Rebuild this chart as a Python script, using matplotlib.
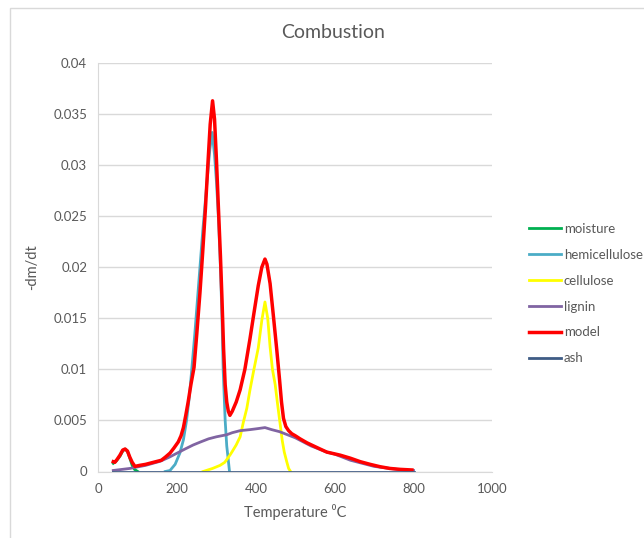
import matplotlib
matplotlib.use("Agg")
import matplotlib.pyplot as plt
from matplotlib.patches import Rectangle

plt.rcParams['font.family'] = ['Lato', 'DejaVu Sans']

# moisture peak
t_moist = [38, 45, 55, 62, 68, 74, 80, 86, 92, 100]
moisture = [0.0008, 0.0010, 0.0015, 0.0020, 0.0022, 0.0020, 0.0013, 0.0006, 0.0002, 0.0]

# hemicellulose
t_hemi = [170, 182, 195, 207, 216, 224, 231, 237, 245, 255, 265, 275, 283, 289,
          295, 300, 305, 310, 314, 317, 322, 326, 330, 333]
hemi = [0.0, 0.0001, 0.0007, 0.0018, 0.0031, 0.0050, 0.0073, 0.0099, 0.0135, 0.0185,
        0.0235, 0.0280, 0.0315, 0.0332,
        0.0310, 0.0283, 0.0248, 0.0200, 0.0150, 0.0099, 0.0050, 0.0025, 0.0011, 0.0]

# cellulose
t_cell = [266, 290, 309, 321, 334, 339, 350, 360, 368, 377, 385, 395, 406, 415, 423,
          430, 436, 442, 449, 455, 461, 467, 472, 478, 483, 488]
cell = [0.0, 0.0003, 0.0006, 0.0009, 0.0016, 0.0019, 0.0026, 0.0034, 0.0048, 0.0062,
        0.0080, 0.0100, 0.0121, 0.0148, 0.0166,
        0.0150, 0.0122, 0.0100, 0.0085, 0.0066, 0.0048, 0.0030, 0.0019, 0.0010, 0.0003, 0.0]

# lignin
t_lig = [38, 80, 120, 157, 180, 200, 220, 241, 260, 280, 300, 326, 340, 360, 385, 405, 423,
         440, 460, 480, 500, 520, 540, 560, 580, 600, 620, 640, 660, 680, 700, 720, 740,
         760, 780, 800]
lignin = [0.0001, 0.0003, 0.0006, 0.0010, 0.0014, 0.0018, 0.0022, 0.0026, 0.0029, 0.0032,
          0.0034, 0.0036, 0.0038, 0.0040, 0.0041, 0.0042, 0.0043,
          0.0041, 0.0039, 0.0036, 0.0033, 0.0029, 0.0025, 0.0022, 0.0019, 0.0017, 0.0014,
          0.0011, 0.0009, 0.0007, 0.0005, 0.0004, 0.0003, 0.0002, 0.0001, 0.0001]

# model
t_model = [38, 42, 48, 55, 62, 68, 74, 80, 86, 93, 105, 120, 140, 160, 170, 182, 192, 203,
           210, 216, 222, 228, 235, 243, 250, 258, 265, 272, 278, 284, 290,
           295, 300, 305, 310, 314, 318, 322, 326, 330, 334, 340, 350, 360, 372, 385, 395,
           406, 415, 423, 428, 436, 445, 453, 460, 465, 470, 476, 483, 491, 500, 512, 530,
           563, 580, 614, 640, 665, 690, 715, 740, 766, 796]
model = [0.00096, 0.0009, 0.0012, 0.0016, 0.0021, 0.0022, 0.0020, 0.0014, 0.0009, 0.0005,
         0.0006, 0.0007, 0.0009, 0.0011, 0.0014, 0.0018, 0.0023, 0.0029,
         0.0035, 0.0043, 0.0055, 0.0068, 0.0085, 0.0102, 0.0135, 0.0175, 0.0215, 0.0258,
         0.0300, 0.0340, 0.0363,
         0.0345, 0.0304, 0.0257, 0.0211, 0.0168, 0.0120, 0.0085, 0.0068, 0.0059, 0.0055,
         0.0059, 0.0068, 0.0080, 0.0100, 0.0130, 0.0155,
         0.0182, 0.0200, 0.0208, 0.0203, 0.0184, 0.0150, 0.0119, 0.0090, 0.0068, 0.0052,
         0.0044, 0.0040, 0.0037, 0.0035, 0.0032, 0.0028,
         0.0022, 0.0019, 0.0016, 0.0013, 0.00096, 0.0007, 0.00047, 0.0003, 0.00021, 0.00015]

# ash
t_ash = [38, 800]
ash = [0.0, 0.0]

fig = plt.figure(figsize=(6.44, 5.38), dpi=100)
fig.patches.append(Rectangle((10 / 644, -0.1), 1.2, 1.1 - 8 / 538, transform=fig.transFigure,
                             fill=False, edgecolor='#D9D9D9', lw=1))
ax = fig.add_axes([98.3 / 644, 66.5 / 538, 394 / 644, 408.5 / 538])

ax.plot(t_moist, moisture, color='#00B050', lw=2.0, label='moisture')
ax.plot(t_hemi, hemi, color='#4BACC6', lw=2.0, label='hemicellulose')
ax.plot(t_cell, cell, color='#FFFF00', lw=2.0, label='cellulose')
ax.plot(t_lig, lignin, color='#8064A2', lw=2.0, label='lignin')
ax.plot(t_model, model, color='#FF0000', lw=2.5, label='model')
ax.plot(t_ash, ash, color='#3F5C85', lw=2.0, label='ash')

ax.set_xlim(0, 1000)
ax.set_ylim(0, 0.04)
ax.set_xticks(range(0, 1001, 200))
yt = [i * 0.005 for i in range(9)]
ax.set_yticks(yt)
ax.set_yticklabels([f"{v:g}" for v in yt])
ax.tick_params(length=0, labelsize=9.5, colors='#595959', pad=8)
ax.grid(axis='y', color='#D9D9D9', lw=1)
ax.set_axisbelow(True)
for s in ['top', 'right']:
    ax.spines[s].set_visible(False)
for s in ['left', 'bottom']:
    ax.spines[s].set_color('#D9D9D9')

ax.set_xlabel('Temperature \u2070C', fontsize=10.5, color='#595959', labelpad=7)
ax.set_ylabel('-dm/dt', fontsize=10.5, color='#595959', labelpad=10)

fig.text(333 / 644, 1 - 32 / 538, 'Combustion', fontsize=14, color='#595959',
         ha='center', va='center')

fig.legend(loc='upper left', bbox_to_anchor=(529 / 644, 1 - 223 / 538), frameon=False,
           fontsize=9.5, labelcolor='#595959', handlelength=2.4, handletextpad=0.25,
           labelspacing=1.05, borderaxespad=0, borderpad=0)

fig.savefig('out.png', dpi=100)
